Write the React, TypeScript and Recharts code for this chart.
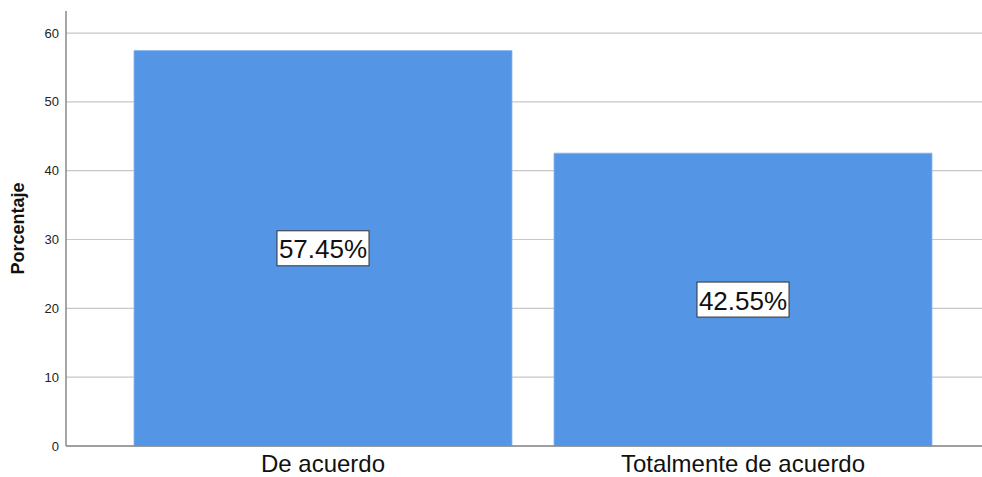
import { BarChart, Bar, XAxis, YAxis, CartesianGrid, LabelList } from 'recharts';

const CATEGORIES = ['De acuerdo', 'Totalmente de acuerdo'];
const PERCENTS = [57.45, 42.55];
const Y_TICKS = [0, 10, 20, 30, 40, 50, 60];

const data = CATEGORIES.map((name, i) => ({ name, value: PERCENTS[i] }));

const BoxLabel = (props: any) => {
  const { x, y, width, height, value } = props;
  const cx = x + width / 2;
  const cy = y + height / 2;
  const text = `${Number(value).toFixed(2)}%`;
  const w = 92;
  const h = 35;
  return (
    <g>
      <rect x={cx - w / 2} y={cy - h / 2} width={w} height={h} fill="#fff" stroke="#333" strokeWidth={1} />
      <text x={cx} y={cy + 1} textAnchor="middle" dominantBaseline="central" fontSize={26} fill="#111" fontFamily="Arial, Liberation Sans, sans-serif">
        {text}
      </text>
    </g>
  );
};

const YLabel = (props: any) => {
  const { viewBox } = props;
  const cy = viewBox.y + viewBox.height / 2;
  return (
    <text x={18} y={cy} transform={`rotate(-90, 18, ${cy})`} textAnchor="middle" dominantBaseline="central" fontSize={18} fontWeight="bold" fill="#111">
      Porcentaje
    </text>
  );
};

export default function App() {
  return (
    <div style={{ position: 'absolute', left: 0, top: 0, background: '#fff', fontFamily: 'Arial, "Liberation Sans", sans-serif' }}>
      <BarChart width={982} height={477} data={data} margin={{ top: 11, right: 0, bottom: 0, left: 0 }} barCategoryGap="5%">
        <CartesianGrid vertical={false} stroke="#c8c8c8" strokeWidth={1.2} syncWithTicks />
        <XAxis
          dataKey="name"
          height={31}
          padding={{ left: 47, right: 29 }}
          tickLine={false}
          tickSize={0}
          tickMargin={9}
          axisLine={{ stroke: '#888', strokeWidth: 1.5 }}
          tick={{ fill: '#111', fontSize: 24 }}
          interval={0}
        />
        <YAxis
          type="number"
          domain={[0, 63.2]}
          ticks={Y_TICKS}
          width={66}
          tickLine={false}
          tickSize={7}
          tickMargin={0}
          axisLine={{ stroke: '#888', strokeWidth: 1.5 }}
          tick={{ fill: '#222', fontSize: 13 }}
          label={<YLabel />}
        />
        <Bar dataKey="value" fill="#5595e5" stroke="#8ab6ee" strokeWidth={0.8} isAnimationActive={false}>
          <LabelList dataKey="value" content={BoxLabel} />
        </Bar>
      </BarChart>
    </div>
  );
}
